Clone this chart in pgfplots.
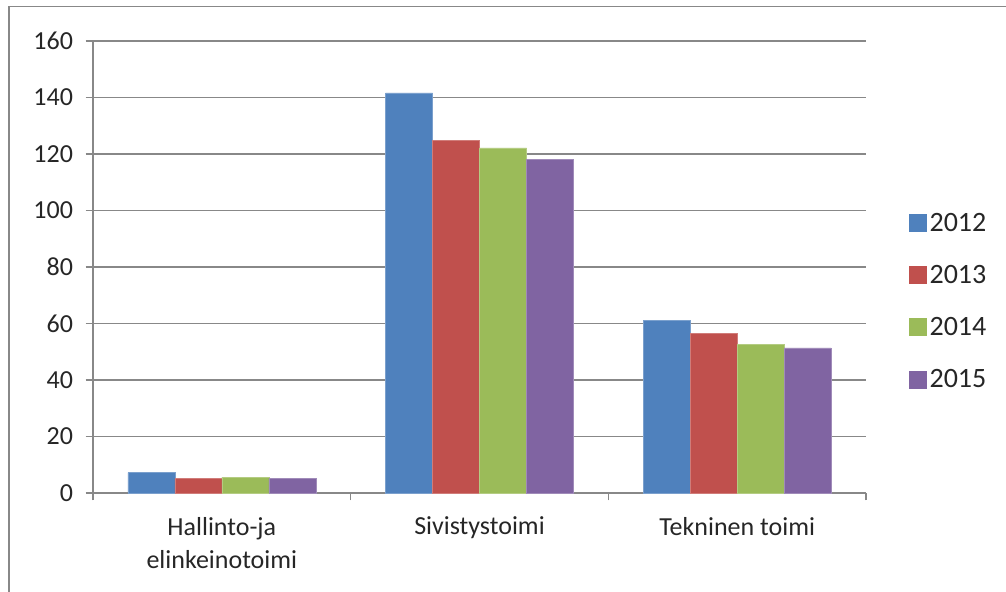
\documentclass[border=0pt]{standalone}
\usepackage{pgfplots}
\pgfplotsset{compat=1.18}
\usepackage{fontspec}
\setmainfont{Carlito}
\definecolor{c12}{HTML}{4F81BD}
\definecolor{c13}{HTML}{C0504D}
\definecolor{c14}{HTML}{9BBB59}
\definecolor{c15}{HTML}{8064A2}
\definecolor{gridc}{HTML}{888888}
\begin{document}
\begin{tikzpicture}
\useasboundingbox (0pt,0pt) rectangle (754.5pt,-444pt);
\draw[gridc, line width=1.1pt] (6.75pt,-444pt) -- (6.75pt,-4.875pt) -- (754.5pt,-4.875pt);
\begin{axis}[
  at={(69.75pt,-369.75pt)}, anchor=south west,
  scale only axis, width=579.75pt, height=339pt,
  ybar=0pt, bar width=35.25pt,
  xmin=-0.5, xmax=2.5, ymin=0, ymax=160,
  ytick={0,20,...,160},
  xtick={-0.5,0.5,1.5,2.5},
  x tick label as interval,
  xticklabels={{Hallinto-ja\\elinkeinotoimi},Sivistystoimi,Tekninen toimi},
  xticklabel style={align=center, font=\fontsize{19.5}{25}\selectfont, text=black!85, yshift=-9pt},
  yticklabel style={font=\fontsize{19.5}{23}\selectfont, text=black!85, xshift=-6pt},
  /pgf/number format/assume math mode=true,
  axis x line*=bottom, axis y line*=left,
  axis line style={gridc, line width=0.9pt, -},
  tick style={gridc, line width=0.9pt},
  tick align=outside, major tick length=5.5pt,
  ymajorgrids, grid style={gridc, line width=0.9pt},
  legend style={draw=none, fill=none, at={(1.05,0.632)}, anchor=north west,
    font=\fontsize{21}{24}\selectfont, row sep=20pt, text=black!85},
  legend cell align=left,
  legend image code/.code={\fill[#1, draw=none] (0pt,-6.75pt) rectangle (13.5pt,6.75pt);},
]
\addplot[fill=c12, draw=c12!75!white, line width=0.4pt] coordinates {(0,7.2) (1,141.6) (2,61.1)};
\addplot[fill=c13, draw=c13!75!white, line width=0.4pt] coordinates {(0,5.1) (1,124.8) (2,56.5)};
\addplot[fill=c14, draw=c14!75!white, line width=0.4pt] coordinates {(0,5.6) (1,122.2) (2,52.6)};
\addplot[fill=c15, draw=c15!75!white, line width=0.4pt] coordinates {(0,5.2) (1,118.2) (2,51.4)};
\legend{2012,2013,2014,2015}
\end{axis}
\end{tikzpicture}
\end{document}
